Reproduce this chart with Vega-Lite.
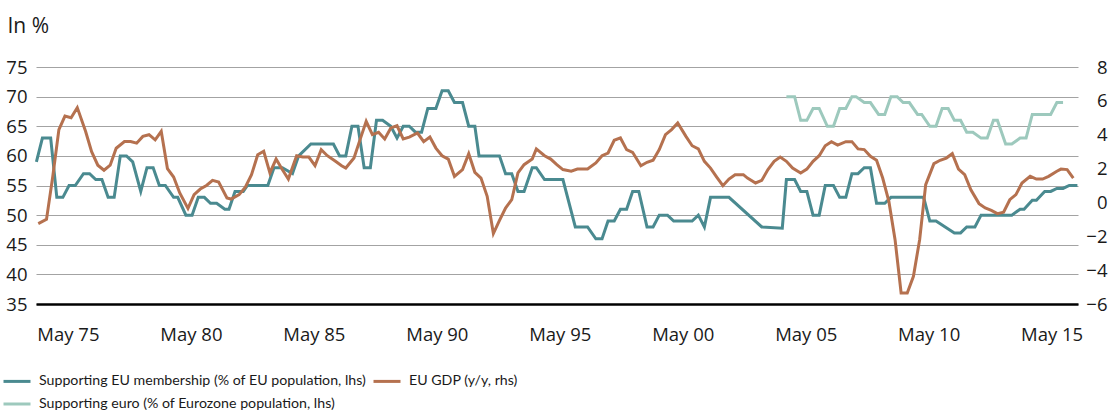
{
  "$schema": "https://vega.github.io/schema/vega-lite/v6.json",
  "width": 1042,
  "height": 237,
  "autosize": {"type": "none"},
  "padding": {"left": 36, "top": 67, "right": 31, "bottom": 116},
  "background": "white",
  "config": {
    "font": "Open Sans",
    "view": {"stroke": null},
    "axis": {"labelFontSize": 18.5, "labelColor": "#1a1a1a", "labelFont": "Open Sans", "labelOverlap": false},
    "legend": {
      "orient": "none",
      "legendX": -34,
      "legendY": 299,
      "columns": 2,
      "direction": "horizontal",
      "symbolType": "stroke",
      "symbolSize": 729,
      "symbolStrokeWidth": 3,
      "labelFont": "Lato",
      "labelFontSize": 14.2,
      "labelColor": "#1a1a1a",
      "labelOffset": 7,
      "columnPadding": 0,
      "rowPadding": 0,
      "padding": 0,
      "labelLimit": 0
    }
  },
  "datasets": {
    "membership": [{"d":"1974-02","v":59},{"d":"1974-05","v":63},{"d":"1974-09","v":63},{"d":"1974-12","v":53},{"d":"1975-03","v":53},{"d":"1975-06","v":55},{"d":"1975-09","v":55},{"d":"1976-01","v":57},{"d":"1976-04","v":57},{"d":"1976-07","v":56},{"d":"1976-10","v":56},{"d":"1977-01","v":53},{"d":"1977-04","v":53},{"d":"1977-07","v":60},{"d":"1977-10","v":60},{"d":"1978-01","v":59},{"d":"1978-05","v":54},{"d":"1978-08","v":58},{"d":"1978-11","v":58},{"d":"1979-02","v":55},{"d":"1979-05","v":55},{"d":"1979-09","v":53},{"d":"1979-11","v":53},{"d":"1980-03","v":50},{"d":"1980-06","v":50},{"d":"1980-09","v":53},{"d":"1980-12","v":53},{"d":"1981-03","v":52},{"d":"1981-06","v":52},{"d":"1981-10","v":51},{"d":"1981-12","v":51},{"d":"1982-03","v":54},{"d":"1982-07","v":54},{"d":"1982-09","v":55},{"d":"1983-07","v":55},{"d":"1983-10","v":58},{"d":"1984-02","v":58},{"d":"1984-07","v":57},{"d":"1984-10","v":60},{"d":"1985-04","v":62},{"d":"1986-03","v":62},{"d":"1986-06","v":60},{"d":"1986-09","v":60},{"d":"1986-12","v":65},{"d":"1987-03","v":65},{"d":"1987-06","v":58},{"d":"1987-09","v":58},{"d":"1987-12","v":66},{"d":"1988-03","v":66},{"d":"1988-07","v":65},{"d":"1988-10","v":63},{"d":"1989-01","v":65},{"d":"1989-04","v":65},{"d":"1989-07","v":64},{"d":"1989-10","v":64},{"d":"1990-01","v":68},{"d":"1990-05","v":68},{"d":"1990-08","v":71},{"d":"1990-11","v":71},{"d":"1991-02","v":69},{"d":"1991-06","v":69},{"d":"1991-09","v":65},{"d":"1991-12","v":65},{"d":"1992-02","v":60},{"d":"1992-12","v":60},{"d":"1993-03","v":57},{"d":"1993-06","v":57},{"d":"1993-09","v":54},{"d":"1993-12","v":54},{"d":"1994-04","v":58},{"d":"1994-06","v":58},{"d":"1994-10","v":56},{"d":"1995-07","v":56},{"d":"1996-01","v":48},{"d":"1996-07","v":48},{"d":"1996-11","v":46},{"d":"1997-02","v":46},{"d":"1997-05","v":49},{"d":"1997-08","v":49},{"d":"1997-11","v":51},{"d":"1998-02","v":51},{"d":"1998-05","v":54},{"d":"1998-08","v":54},{"d":"1998-12","v":48},{"d":"1999-03","v":48},{"d":"1999-06","v":50},{"d":"1999-10","v":50},{"d":"2000-01","v":49},{"d":"2000-10","v":49},{"d":"2001-01","v":50},{"d":"2001-04","v":48},{"d":"2001-07","v":53},{"d":"2002-04","v":53},{"d":"2003-08","v":48},{"d":"2004-06","v":47.8},{"d":"2004-08","v":56},{"d":"2004-12","v":56},{"d":"2005-03","v":54},{"d":"2005-06","v":54},{"d":"2005-09","v":50},{"d":"2005-12","v":50},{"d":"2006-03","v":55},{"d":"2006-07","v":55},{"d":"2006-10","v":53},{"d":"2007-01","v":53},{"d":"2007-04","v":57},{"d":"2007-07","v":57},{"d":"2007-10","v":58},{"d":"2008-01","v":58},{"d":"2008-04","v":52},{"d":"2008-08","v":52},{"d":"2008-11","v":53},{"d":"2010-03","v":53},{"d":"2010-06","v":49},{"d":"2010-09","v":49},{"d":"2011-06","v":47},{"d":"2011-09","v":47},{"d":"2011-12","v":48},{"d":"2012-04","v":48},{"d":"2012-07","v":50},{"d":"2013-10","v":50},{"d":"2014-02","v":51},{"d":"2014-04","v":51},{"d":"2014-08","v":52.5},{"d":"2014-10","v":52.5},{"d":"2015-02","v":54},{"d":"2015-05","v":54},{"d":"2015-08","v":54.5},{"d":"2015-11","v":54.5},{"d":"2016-02","v":55},{"d":"2016-06","v":55}],
    "euro": [{"d":"2004-08","v":70},{"d":"2004-12","v":70},{"d":"2005-03","v":66},{"d":"2005-06","v":66},{"d":"2005-09","v":68},{"d":"2005-12","v":68},{"d":"2006-04","v":65},{"d":"2006-07","v":65},{"d":"2006-10","v":68},{"d":"2007-01","v":68},{"d":"2007-04","v":70},{"d":"2007-06","v":70},{"d":"2007-10","v":69},{"d":"2008-01","v":69},{"d":"2008-05","v":67},{"d":"2008-08","v":67},{"d":"2008-11","v":70},{"d":"2009-02","v":70},{"d":"2009-05","v":69},{"d":"2009-08","v":69},{"d":"2009-12","v":67},{"d":"2010-02","v":67},{"d":"2010-06","v":65},{"d":"2010-09","v":65},{"d":"2010-12","v":68},{"d":"2011-03","v":68},{"d":"2011-06","v":66},{"d":"2011-09","v":66},{"d":"2011-12","v":64},{"d":"2012-03","v":64},{"d":"2012-07","v":63},{"d":"2012-10","v":63},{"d":"2013-01","v":66},{"d":"2013-03","v":66},{"d":"2013-07","v":62},{"d":"2013-10","v":62},{"d":"2014-02","v":63},{"d":"2014-05","v":63},{"d":"2014-08","v":67},{"d":"2015-05","v":67},{"d":"2015-08","v":69},{"d":"2015-11","v":69}],
    "gdp": [{"d":"1974-03","v":-1.25},{"d":"1974-07","v":-1.0},{"d":"1974-10","v":1.5},{"d":"1975-01","v":4.3},{"d":"1975-04","v":5.1},{"d":"1975-07","v":5.0},{"d":"1975-10","v":5.6},{"d":"1976-02","v":4.2},{"d":"1976-05","v":3.0},{"d":"1976-08","v":2.2},{"d":"1976-11","v":1.9},{"d":"1977-02","v":2.2},{"d":"1977-05","v":3.2},{"d":"1977-09","v":3.6},{"d":"1977-12","v":3.6},{"d":"1978-03","v":3.5},{"d":"1978-06","v":3.9},{"d":"1978-09","v":4.0},{"d":"1978-12","v":3.7},{"d":"1979-03","v":4.2},{"d":"1979-06","v":2.0},{"d":"1979-09","v":1.5},{"d":"1979-12","v":0.56},{"d":"1980-04","v":-0.35},{"d":"1980-07","v":0.46},{"d":"1980-10","v":0.79},{"d":"1981-01","v":1.0},{"d":"1981-04","v":1.3},{"d":"1981-07","v":1.2},{"d":"1981-11","v":0.26},{"d":"1982-01","v":0.2},{"d":"1982-05","v":0.46},{"d":"1982-08","v":0.9},{"d":"1982-11","v":1.64},{"d":"1983-02","v":2.82},{"d":"1983-05","v":3.02},{"d":"1983-08","v":1.74},{"d":"1983-11","v":2.56},{"d":"1984-02","v":1.94},{"d":"1984-05","v":1.38},{"d":"1984-09","v":2.76},{"d":"1984-12","v":2.68},{"d":"1985-03","v":2.68},{"d":"1985-06","v":2.17},{"d":"1985-09","v":3.12},{"d":"1985-12","v":2.76},{"d":"1986-04","v":2.43},{"d":"1986-07","v":2.17},{"d":"1986-09","v":2.03},{"d":"1987-01","v":2.62},{"d":"1987-04","v":3.71},{"d":"1987-07","v":4.79},{"d":"1987-10","v":4.0},{"d":"1988-01","v":4.14},{"d":"1988-04","v":3.75},{"d":"1988-07","v":4.4},{"d":"1988-10","v":4.53},{"d":"1989-01","v":3.75},{"d":"1989-04","v":3.86},{"d":"1989-08","v":4.1},{"d":"1989-11","v":3.59},{"d":"1990-02","v":3.86},{"d":"1990-05","v":3.21},{"d":"1990-08","v":2.76},{"d":"1990-11","v":2.56},{"d":"1991-02","v":1.54},{"d":"1991-06","v":1.94},{"d":"1991-09","v":2.88},{"d":"1991-12","v":1.78},{"d":"1992-03","v":1.44},{"d":"1992-06","v":0.36},{"d":"1992-09","v":-1.84},{"d":"1992-12","v":-1.06},{"d":"1993-03","v":-0.33},{"d":"1993-06","v":0.16},{"d":"1993-09","v":1.74},{"d":"1993-12","v":2.23},{"d":"1994-04","v":2.56},{"d":"1994-06","v":3.16},{"d":"1994-10","v":2.76},{"d":"1995-01","v":2.56},{"d":"1995-04","v":2.23},{"d":"1995-07","v":1.94},{"d":"1995-11","v":1.84},{"d":"1996-02","v":1.97},{"d":"1996-07","v":1.97},{"d":"1996-11","v":2.33},{"d":"1997-02","v":2.76},{"d":"1997-05","v":2.92},{"d":"1997-08","v":3.67},{"d":"1997-11","v":3.81},{"d":"1998-02","v":3.12},{"d":"1998-05","v":2.96},{"d":"1998-09","v":2.17},{"d":"1998-12","v":2.37},{"d":"1999-03","v":2.49},{"d":"1999-06","v":3.12},{"d":"1999-09","v":4.0},{"d":"1999-12","v":4.3},{"d":"2000-03","v":4.69},{"d":"2000-07","v":3.9},{"d":"2000-10","v":3.35},{"d":"2001-01","v":3.16},{"d":"2001-04","v":2.43},{"d":"2001-07","v":2.03},{"d":"2001-10","v":1.5},{"d":"2002-01","v":0.99},{"d":"2002-04","v":1.38},{"d":"2002-07","v":1.64},{"d":"2002-11","v":1.64},{"d":"2003-01","v":1.44},{"d":"2003-05","v":1.15},{"d":"2003-08","v":1.3},{"d":"2003-11","v":1.94},{"d":"2004-02","v":2.43},{"d":"2004-05","v":2.68},{"d":"2004-08","v":2.43},{"d":"2004-11","v":2.03},{"d":"2005-03","v":1.74},{"d":"2005-06","v":1.97},{"d":"2005-09","v":2.43},{"d":"2005-12","v":2.76},{"d":"2006-03","v":3.35},{"d":"2006-06","v":3.59},{"d":"2006-09","v":3.39},{"d":"2007-01","v":3.59},{"d":"2007-04","v":3.59},{"d":"2007-07","v":3.16},{"d":"2007-10","v":3.12},{"d":"2008-01","v":2.72},{"d":"2008-04","v":2.49},{"d":"2008-07","v":1.44},{"d":"2008-10","v":0.06},{"d":"2009-01","v":-2.2},{"d":"2009-04","v":-5.35},{"d":"2009-07","v":-5.35},{"d":"2009-10","v":-4.36},{"d":"2010-01","v":-2.2},{"d":"2010-04","v":1.05},{"d":"2010-08","v":2.29},{"d":"2010-11","v":2.49},{"d":"2011-02","v":2.62},{"d":"2011-05","v":2.88},{"d":"2011-08","v":1.97},{"d":"2011-11","v":1.64},{"d":"2012-02","v":0.75},{"d":"2012-06","v":-0.07},{"d":"2012-09","v":-0.33},{"d":"2012-12","v":-0.47},{"d":"2013-03","v":-0.66},{"d":"2013-06","v":-0.58},{"d":"2013-09","v":0.16},{"d":"2013-12","v":0.46},{"d":"2014-03","v":1.15},{"d":"2014-07","v":1.54},{"d":"2014-10","v":1.38},{"d":"2015-01","v":1.38},{"d":"2015-04","v":1.54},{"d":"2015-08","v":1.84},{"d":"2015-10","v":1.97},{"d":"2016-01","v":1.94},{"d":"2016-04","v":1.44}]
  },
  "layer": [
    {
      "layer": [
        {
          "data": {"name": "membership"},
          "mark": {"type": "line", "strokeWidth": 3},
          "encoding": {
            "x": {"field": "d", "type": "temporal",
              "scale": {"domain": [{"year": 1974, "month": 1, "date": 26}, {"year": 2016, "month": 6, "date": 10}]},
              "axis": {"values": [{"year": 1975, "month": 5, "date": 15}, {"year": 1980, "month": 5, "date": 15}, {"year": 1985, "month": 5, "date": 15}, {"year": 1990, "month": 5, "date": 15}, {"year": 1995, "month": 5, "date": 15}, {"year": 2000, "month": 5, "date": 15}, {"year": 2005, "month": 5, "date": 15}, {"year": 2010, "month": 5, "date": 15}, {"year": 2015, "month": 5, "date": 15}],
                "format": "%b %y", "title": null, "grid": false, "ticks": false, "tickSize": 0, "domainColor": "#000000", "domainWidth": 2.5, "labelPadding": 21, "labelBaseline": "top", "labelAngle": 0}},
            "y": {"field": "v", "type": "quantitative",
              "scale": {"domain": [35, 75], "nice": false, "zero": false},
              "axis": {"values": [35, 40, 45, 50, 55, 60, 65, 70, 75], "tickCount": 9, "title": "In %", "titleAngle": 0, "titleX": -29, "titleY": -35, "titleAlign": "left", "titleBaseline": "alphabetic", "titleFontSize": 21, "titleFontWeight": "normal", "titleFont": "Open Sans", "titleColor": "#1a1a1a", "grid": true, "gridColor": "#a3a3a3", "gridWidth": 1, "domain": false, "ticks": false, "tickSize": 0, "labelPadding": 9}},
            "color": {"datum": "Supporting EU membership (% of EU population, lhs)",
              "scale": {"domain": ["Supporting EU membership (% of EU population, lhs)", "EU GDP (y/y, rhs)", "Supporting euro (% of Eurozone population, lhs)"], "range": ["#4a8a90", "#b5714f", "#9dc9bd"]},
              "legend": {"title": null}}
          }
        },
        {
          "data": {"name": "euro"},
          "mark": {"type": "line", "strokeWidth": 3},
          "encoding": {
            "x": {"field": "d", "type": "temporal"},
            "y": {"field": "v", "type": "quantitative",
              "axis": {"values": [35, 40, 45, 50, 55, 60, 65, 70, 75], "tickCount": 9, "title": "In %", "titleAngle": 0, "titleX": -29, "titleY": -35, "titleAlign": "left", "titleBaseline": "alphabetic", "titleFontSize": 21, "titleFontWeight": "normal", "titleFont": "Open Sans", "titleColor": "#1a1a1a", "grid": true, "gridColor": "#a3a3a3", "gridWidth": 1, "domain": false, "ticks": false, "tickSize": 0, "labelPadding": 9}},
            "color": {"datum": "Supporting euro (% of Eurozone population, lhs)"}
          }
        }
      ]
    },
    {
      "data": {"name": "gdp"},
      "mark": {"type": "line", "strokeWidth": 3},
      "encoding": {
        "x": {"field": "d", "type": "temporal"},
        "y": {"field": "v", "type": "quantitative",
          "scale": {"domain": [-6, 8], "nice": false, "zero": false},
          "axis": {"orient": "right", "values": [-6, -4, -2, 0, 2, 4, 6, 8], "title": null, "grid": false, "domain": false, "ticks": false, "tickSize": 0, "labelAlign": "right", "labelPadding": 29}},
        "color": {"datum": "EU GDP (y/y, rhs)"}
      }
    }
  ],
  "resolve": {"scale": {"y": "independent"}}
}
